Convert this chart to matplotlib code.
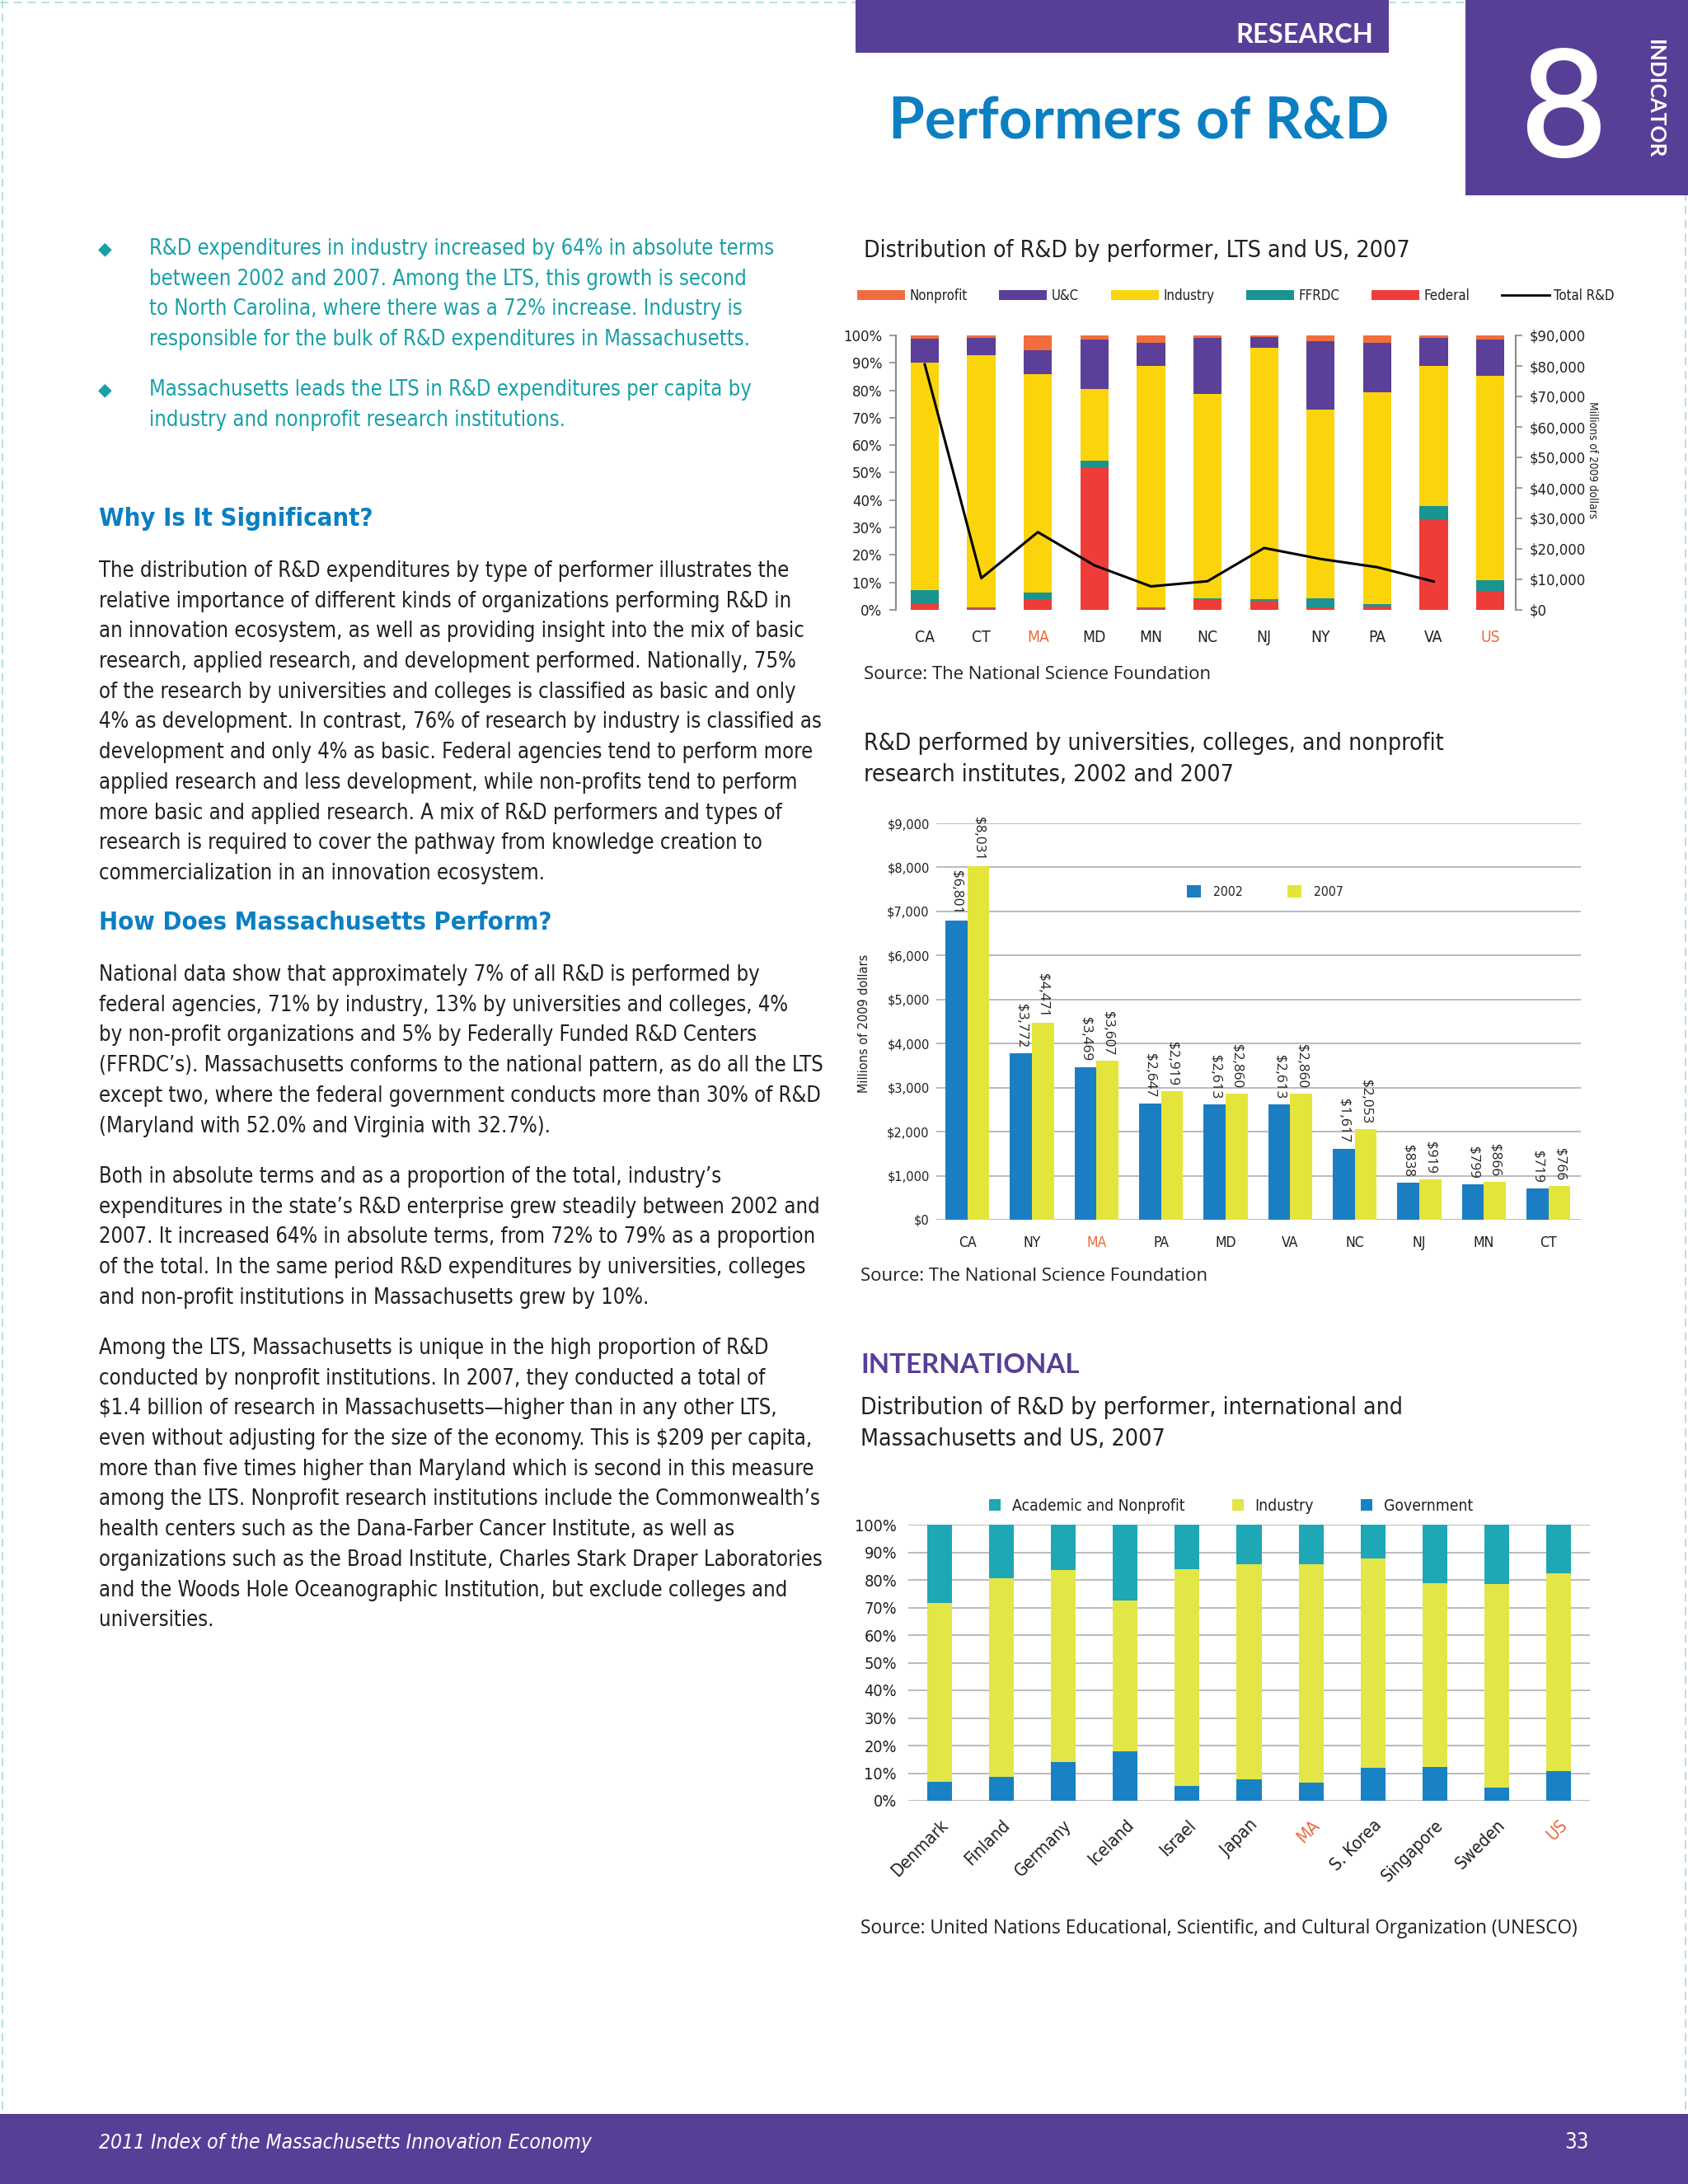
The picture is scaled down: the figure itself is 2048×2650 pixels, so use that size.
import numpy as np
import matplotlib
matplotlib.use('Agg')
import matplotlib.pyplot as plt
from matplotlib import font_manager
from matplotlib.font_manager import FontProperties
from matplotlib.patches import Rectangle, Patch
from matplotlib.lines import Line2D

# ---------------- data ----------------
lts_states = ['CA', 'CT', 'MA', 'MD', 'MN', 'NC', 'NJ', 'NY', 'PA', 'VA', 'US']
share_federal = [2.0, 0.6, 3.8, 52.0, 0.7, 4.0, 3.2, 0.8, 1.3, 32.7, 7.0]
share_ffrdc = [5.3, 0.2, 2.6, 2.5, 0.2, 0.2, 0.8, 3.4, 0.8, 5.1, 3.9]
share_industry = [82.7, 92.1, 79.6, 26.1, 88.1, 74.4, 91.6, 68.8, 77.2, 51.2, 74.3]
share_uc = [8.7, 6.3, 8.7, 17.8, 8.4, 20.5, 3.8, 24.9, 18.0, 10.2, 13.2]
share_nonprofit = [1.3, 0.8, 5.3, 1.6, 2.6, 0.9, 0.6, 2.1, 2.7, 0.8, 1.6]
total_rd_states = ['CA', 'CT', 'MA', 'MD', 'MN', 'NC', 'NJ', 'NY', 'PA', 'VA']
total_rd = [80500, 10400, 25500, 14600, 7700, 9400, 20300, 16700, 14000, 9300]
pct_ticks = [0, 10, 20, 30, 40, 50, 60, 70, 80, 90, 100]
usd_ticks_1 = [0, 10000, 20000, 30000, 40000, 50000, 60000, 70000, 80000, 90000]

uni_states = ['CA', 'NY', 'MA', 'PA', 'MD', 'VA', 'NC', 'NJ', 'MN', 'CT']
uni_2002 = [6801, 3772, 3469, 2647, 2613, 2613, 1617, 838, 799, 719]
uni_2007 = [8031, 4471, 3607, 2919, 2860, 2860, 2053, 919, 866, 766]
usd_ticks_2 = [0, 1000, 2000, 3000, 4000, 5000, 6000, 7000, 8000, 9000]

intl_countries = ['Denmark', 'Finland', 'Germany', 'Iceland', 'Israel', 'Japan',
                  'MA', 'S. Korea', 'Singapore', 'Sweden', 'US']
intl_government = [7.0, 8.6, 13.9, 17.8, 5.3, 7.7, 6.5, 11.8, 12.2, 4.9, 10.8]
intl_industry = [64.6, 72.0, 69.7, 54.7, 78.5, 78.0, 79.3, 76.1, 66.7, 73.6, 71.7]
intl_academic = [28.4, 19.4, 16.4, 27.5, 16.2, 14.3, 14.2, 12.1, 21.1, 21.5, 17.5]

highlight = ['MA', 'US']

bullet1 = ["R&D expenditures in industry increased by 64% in absolute terms",
           "between 2002 and 2007. Among the LTS, this growth is second",
           "to North Carolina, where there was a 72% increase. Industry is",
           "responsible for the bulk of R&D expenditures in Massachusetts."]
bullet2 = ["Massachusetts leads the LTS in R&D expenditures per capita by",
           "industry and nonprofit research institutions."]
para1 = ["The distribution of R&D expenditures by type of performer illustrates the",
         "relative importance of different kinds of organizations performing R&D in",
         "an innovation ecosystem, as well as providing insight into the mix of basic",
         "research, applied research, and development performed. Nationally, 75%",
         "of the research by universities and colleges is classified as basic and only",
         "4% as development. In contrast, 76% of research by industry is classified as",
         "development and only 4% as basic. Federal agencies tend to perform more",
         "applied research and less development, while non-profits tend to perform",
         "more basic and applied research. A mix of R&D performers and types of",
         "research is required to cover the pathway from knowledge creation to",
         "commercialization in an innovation ecosystem."]
para2 = ["National data show that approximately 7% of all R&D is performed by",
         "federal agencies, 71% by industry, 13% by universities and colleges, 4%",
         "by non-profit organizations and 5% by Federally Funded R&D Centers",
         "(FFRDC\u2019s). Massachusetts conforms to the national pattern, as do all the LTS",
         "except two, where the federal government conducts more than 30% of R&D",
         "(Maryland with 52.0% and Virginia with 32.7%)."]
para3 = ["Both in absolute terms and as a proportion of the total, industry\u2019s",
         "expenditures in the state\u2019s R&D enterprise grew steadily between 2002 and",
         "2007. It increased 64% in absolute terms, from 72% to 79% as a proportion",
         "of the total. In the same period R&D expenditures by universities, colleges",
         "and non-profit institutions in Massachusetts grew by 10%."]
para4 = ["Among the LTS, Massachusetts is unique in the high proportion of R&D",
         "conducted by nonprofit institutions. In 2007, they conducted a total of",
         "$1.4 billion of research in Massachusetts\u2014higher than in any other LTS,",
         "even without adjusting for the size of the economy. This is $209 per capita,",
         "more than five times higher than Maryland which is second in this measure",
         "among the LTS. Nonprofit research institutions include the Commonwealth\u2019s",
         "health centers such as the Dana-Farber Cancer Institute, as well as",
         "organizations such as the Broad Institute, Charles Stark Draper Laboratories",
         "and the Woods Hole Oceanographic Institution, but exclude colleges and",
         "universities."]

# ---------------- colours ----------------
PURPLE = '#573f98'
BLUE_T = '#0b7fc2'
TEAL_T = '#18a0a8'
TXT = '#231f20'
ORANGE = '#ec6a3d'
C_NP, C_UC, C_IND, C_FFRDC, C_FED = '#f26d3d', '#5b3f99', '#fbd40b', '#1a9490', '#ee3d38'
C_02, C_07 = '#1b7ec3', '#e4e53a'
C_ACAD, C_IIND, C_GOV = '#1ea7b4', '#e3e647', '#1882c4'
GRID = '#b5b5b5'

# ---------------- fonts ----------------
ttf = font_manager.fontManager.ttflist
names = {f.name for f in ttf}
COND_STRETCH = None
if 'Liberation Sans Narrow' in names:
    COND_FAM = 'Liberation Sans Narrow'
elif any(f.name == 'DejaVu Sans' and str(f.stretch) == 'condensed' for f in ttf):
    COND_FAM = 'DejaVu Sans'
    COND_STRETCH = 'condensed'
else:
    COND_FAM = 'Roboto'

W, H, DPI = 2048, 2650, 100
fig = plt.figure(figsize=(W / DPI, H / DPI), dpi=DPI)
fig.patch.set_facecolor('white')
R = fig.canvas.get_renderer()


def fx(x):
    return x / W


def fy(y):
    return 1 - y / H


def rect(l, t, r, b):
    return [l / W, 1 - b / H, (r - l) / W, (b - t) / H]


def fp(size, fam='cond', weight='normal', style='normal'):
    if fam == 'cond':
        p = FontProperties(family=[COND_FAM, 'DejaVu Sans'], weight=weight, style=style, size=size)
        if COND_STRETCH:
            p.set_stretch(COND_STRETCH)
    else:
        p = FontProperties(family=[fam, 'DejaVu Sans'], weight=weight, style=style, size=size)
    return p


def fit(s, target, fam='cond', weight='normal', style='normal'):
    t = fig.text(0, 0, s, fontproperties=fp(20, fam, weight, style), parse_math=False)
    w = t.get_window_extent(renderer=R).width
    t.remove()
    return 20.0 * target / w


def put(x, y, s, size, fam='cond', weight='normal', style='normal', color=TXT,
        ha='left', va='center', **kw):
    return fig.text(fx(x), fy(y), s, fontproperties=fp(size, fam, weight, style),
                    color=color, ha=ha, va=va, parse_math=False, **kw)


def box(l, t, r, b, color):
    fig.add_artist(Rectangle((fx(l), fy(b)), (r - l) / W, (b - t) / H,
                             transform=fig.transFigure, facecolor=color, lw=0, zorder=0))


# dashed page border
for xs, ys in [((3, 3), (0, 2565)), ((0, 2048), (3, 3)), ((2045, 2045), (0, 2565))]:
    fig.add_artist(Line2D([fx(xs[0]), fx(xs[1])], [fy(ys[0]), fy(ys[1])],
                          transform=fig.transFigure, color='#a9dcd6', lw=1.2,
                          ls=(0, (6, 4)), zorder=0))

# ---------------- header ----------------
box(1038, 0, 1685, 64, PURPLE)
put(1666, 42, 'RESEARCH', fit('RESEARCH', 167, 'Lato', 'bold'), 'Lato', 'bold', color='white', ha='right')
put(1685, 148, 'Performers of R&D', fit('Performers of R&D', 607, 'Lato', 'bold'), 'Lato', 'bold',
    color=BLUE_T, ha='right')
box(1778, 0, 2048, 237, PURPLE)
put(1896, 191, '8', 130, 'Lato', 'semibold', color='white', ha='center', va='baseline')
put(2008, 120, 'INDICATOR', fit('INDICATOR', 144, 'Lato', 'bold'), 'Lato', 'bold', color='white',
    ha='center', rotation=270)

# ---------------- footer ----------------
box(0, 2565, 2048, 2650, PURPLE)
foot = '2011 Index of the Massachusetts Innovation Economy'
fsize = fit(foot, 597, 'cond', 'normal', 'italic')
put(120, 2600, foot, fsize, 'cond', 'normal', 'italic', color='white')
put(1913, 2600, '33', fsize * 1.05, 'cond', color='white', ha='center')

# ---------------- left column ----------------
LS = 36.7
bsize = fit(bullet1[0], 759)
for y0, lines in [(302, bullet1), (473, bullet2)]:
    put(127, y0, '\u25c6', bsize * 0.85, 'DejaVu Sans', color=TEAL_T, ha='center')
    for i, ln in enumerate(lines):
        put(181, y0 + i * LS, ln, bsize, color=TEAL_T)

hsize = fit('Why Is It Significant?', 333, 'cond', 'bold')
put(120, 630, 'Why Is It Significant?', hsize, 'cond', 'bold', color=BLUE_T)
put(120, 1120, 'How Does Massachusetts Perform?', hsize, 'cond', 'bold', color=BLUE_T)
psize = fit(para1[5], 877)
for y0, lines in [(693, para1), (1183, para2), (1428, para3), (1636, para4)]:
    for i, ln in enumerate(lines):
        put(120, y0 + i * LS, ln, psize)

# ---------------- chart 1 ----------------
t1 = 'Distribution of R&D by performer, LTS and US, 2007'
put(1048, 304, t1, fit(t1, 660))
src1 = 'Source: The National Science Foundation'
ssize = fit(src1, 419, 'Open Sans')
put(1048, 818, src1, ssize, 'Open Sans')

tk1 = fit('$90,000', 68)
ax1 = fig.add_axes(rect(1087, 407, 1839, 740))
x1 = np.arange(len(lts_states))
bottom = np.zeros(len(x1))
series1 = [(share_federal, C_FED, 'Federal'), (share_ffrdc, C_FFRDC, 'FFRDC'),
           (share_industry, C_IND, 'Industry'), (share_uc, C_UC, 'U&C'),
           (share_nonprofit, C_NP, 'Nonprofit')]
for vals, col, lab in series1:
    ax1.bar(x1, vals, 0.5, bottom=bottom, color=col, lw=0, label=lab)
    bottom += np.array(vals)
ax1.set_xlim(-0.51, 10.45)
ax1.set_ylim(0, 100)
ax1.set_yticks(pct_ticks)
ax1.set_yticklabels([f'{v}%' for v in pct_ticks], fontproperties=fp(tk1), color=TXT)
ax1.set_xticks(x1)
ax1.set_xticklabels(lts_states, fontproperties=fp(tk1 * 1.05), color=TXT)
for lbl in ax1.get_xticklabels():
    if lbl.get_text() in highlight:
        lbl.set_color(ORANGE)
for s in ['top', 'right', 'bottom']:
    ax1.spines[s].set_visible(False)
ax1.spines['left'].set_color('#8a8a8a')
ax1.spines['left'].set_linewidth(1.5)
ax1.tick_params(axis='y', direction='out', length=6, width=1.2, color='#8a8a8a', pad=6)
ax1.tick_params(axis='x', length=0, pad=17)
ax1.patch.set_alpha(0)

ax1r = ax1.twinx()
xr = [lts_states.index(s) for s in total_rd_states]
ax1r.plot(xr, total_rd, color='black', lw=2.2, label='Total R&D')
ax1r.set_ylim(0, 90000)
ax1r.set_yticks(usd_ticks_1)
ax1r.set_yticklabels([f'${v:,}' for v in usd_ticks_1], fontproperties=fp(tk1), color=TXT)
for s in ['top', 'left', 'bottom']:
    ax1r.spines[s].set_visible(False)
ax1r.spines['right'].set_color('#8a8a8a')
ax1r.spines['right'].set_linewidth(1.5)
ax1r.tick_params(axis='y', direction='out', length=6, width=1.2, color='#8a8a8a', pad=6)
ylab = 'Millions of 2009 dollars'
ax1r.set_ylabel(ylab, rotation=270, fontproperties=fp(fit(ylab, 142)), color=TXT)
ax1r.yaxis.set_label_coords((1939 - 1087) / 752, (740 - 558) / 333)

lg1 = fit('Nonprofit', 70)
lg1px = lg1 / 0.72
handles1 = [Patch(facecolor=C_NP, lw=0), Patch(facecolor=C_UC, lw=0), Patch(facecolor=C_IND, lw=0),
            Patch(facecolor=C_FFRDC, lw=0), Patch(facecolor=C_FED, lw=0),
            Line2D([], [], color='black', lw=2)]
labels1 = ['Nonprofit', 'U&C', 'Industry', 'FFRDC', 'Federal', 'Total R&D']
fig.legend(handles1, labels1, loc='lower left',
           bbox_to_anchor=(fx(1040), fy(368), (1959 - 1040) / W, 36 / H), mode='expand',
           ncol=6, frameon=False, prop=fp(lg1), handlelength=58 / lg1px, handleheight=12 / lg1px,
           handletextpad=0.3, borderaxespad=0, borderpad=0, labelcolor=TXT)

# ---------------- chart 2 ----------------
t2a = 'R&D performed by universities, colleges, and nonprofit'
t2b = 'research institutes, 2002 and 2007'
tsize2 = fit(t2a, 702)
put(1048, 902, t2a, tsize2)
put(1048, 940, t2b, tsize2)
put(1044, 1548, src1, ssize, 'Open Sans')

tk2 = fit('$9,000', 51)
ax2 = fig.add_axes(rect(1136, 999, 1918, 1480))
x2 = np.arange(len(uni_states))
bw = 0.34
bars02 = ax2.bar(x2 - bw / 2, uni_2002, bw, color=C_02, lw=0, zorder=3, label='2002')
bars07 = ax2.bar(x2 + bw / 2, uni_2007, bw, color=C_07, lw=0, zorder=3, label='2007')
ax2.set_xlim(-0.48, 9.5)
ax2.set_ylim(0, 9000)
ax2.set_yticks(usd_ticks_2)
ax2.set_yticklabels([f'${v:,}' for v in usd_ticks_2], fontproperties=fp(tk2), color=TXT)
ax2.set_xticks(x2)
ax2.set_xticklabels(uni_states, fontproperties=fp(tk2 * 1.08), color=TXT)
for lbl in ax2.get_xticklabels():
    if lbl.get_text() in highlight:
        lbl.set_color(ORANGE)
ax2.yaxis.grid(True, color=GRID, lw=1.3)
ax2.set_axisbelow(True)
for s in ax2.spines.values():
    s.set_visible(False)
ax2.tick_params(axis='both', length=0)
ax2.tick_params(axis='y', pad=6)
ax2.tick_params(axis='x', pad=14)
ax2.set_ylabel(ylab, fontproperties=fp(fit(ylab, 168)), color=TXT)
ax2.yaxis.set_label_coords((1056 - 1136) / 782, 0.495)
vsize = fit('$6,801', 53, 'Open Sans')
for bars in (bars02, bars07):
    for b in bars:
        h = b.get_height()
        ax2.annotate(f'${h:,.0f}', xy=(b.get_x() + b.get_width() / 2, h), xytext=(0, 5),
                     textcoords='offset points', rotation=270, ha='center', va='bottom',
                     fontproperties=fp(vsize, 'Open Sans'), color=TXT, annotation_clip=False)
lg2 = fit('2002', 36)
lg2px = lg2 / 0.72
ax2.legend([Patch(facecolor=C_02, lw=0), Patch(facecolor=C_07, lw=0)], ['2002', '2007'],
           loc='center left', bbox_to_anchor=((1440 - 1136) / 782, (1480 - 1082) / 481),
           ncol=2, frameon=False, prop=fp(lg2), handlelength=17 / lg2px, handleheight=17 / lg2px,
           handletextpad=15 / lg2px, columnspacing=54 / lg2px, borderpad=0, borderaxespad=0,
           labelcolor=TXT)

# ---------------- chart 3 ----------------
put(1044, 1656, 'INTERNATIONAL', fit('INTERNATIONAL', 266, 'Lato', 'bold'), 'Lato', 'bold', color=PURPLE)
t3a = 'Distribution of R&D by performer, international and'
t3b = 'Massachusetts and US, 2007'
tsize3 = fit(t3a, 657)
put(1044, 1708, t3a, tsize3)
put(1044, 1746, t3b, tsize3)
src3 = 'Source: United Nations Educational, Scientific, and Cultural Organization (UNESCO)'
put(1044, 2340, src3, fit(src3, 867, 'Open Sans'), 'Open Sans')

tk3 = fit('100%', 51)
ax3 = fig.add_axes(rect(1102, 1850, 1929, 2185))
x3 = np.arange(len(intl_countries))
bottom = np.zeros(len(x3))
for vals, col, lab in [(intl_government, C_GOV, 'Government'), (intl_industry, C_IIND, 'Industry'),
                       (intl_academic, C_ACAD, 'Academic and Nonprofit')]:
    ax3.bar(x3, vals, 0.4, bottom=bottom, color=col, lw=0, zorder=3, label=lab)
    bottom += np.array(vals)
ax3.set_xlim(-0.5, 10.5)
ax3.set_ylim(0, 100)
ax3.set_yticks(pct_ticks)
ax3.set_yticklabels([f'{v}%' for v in pct_ticks], fontproperties=fp(tk3), color=TXT)
ax3.set_xticks(x3)
xl3 = fit('Denmark', 88)
ax3.set_xticklabels(intl_countries, fontproperties=fp(xl3), color=TXT, rotation=45,
                    ha='right', rotation_mode='anchor')
for lbl in ax3.get_xticklabels():
    if lbl.get_text() in highlight:
        lbl.set_color(ORANGE)
ax3.yaxis.grid(True, color=GRID, lw=1.3)
ax3.set_axisbelow(True)
for s in ax3.spines.values():
    s.set_visible(False)
ax3.tick_params(axis='both', length=0)
ax3.tick_params(axis='y', pad=10)
ax3.tick_params(axis='x', pad=14)
lg3 = fit('Academic and Nonprofit', 209)
lg3px = lg3 / 0.72
ax3.legend([Patch(facecolor=C_ACAD, lw=0), Patch(facecolor=C_IIND, lw=0), Patch(facecolor=C_GOV, lw=0)],
           ['Academic and Nonprofit', 'Industry', 'Government'],
           loc='center left', bbox_to_anchor=((1200 - 1102) / 827, (2185 - 1827) / 335),
           ncol=3, frameon=False, prop=fp(lg3), handlelength=14 / lg3px, handleheight=14 / lg3px,
           handletextpad=14 / lg3px, columnspacing=57 / lg3px, borderpad=0, borderaxespad=0,
           labelcolor=TXT)

fig.savefig('out.png', dpi=DPI, facecolor='white')
